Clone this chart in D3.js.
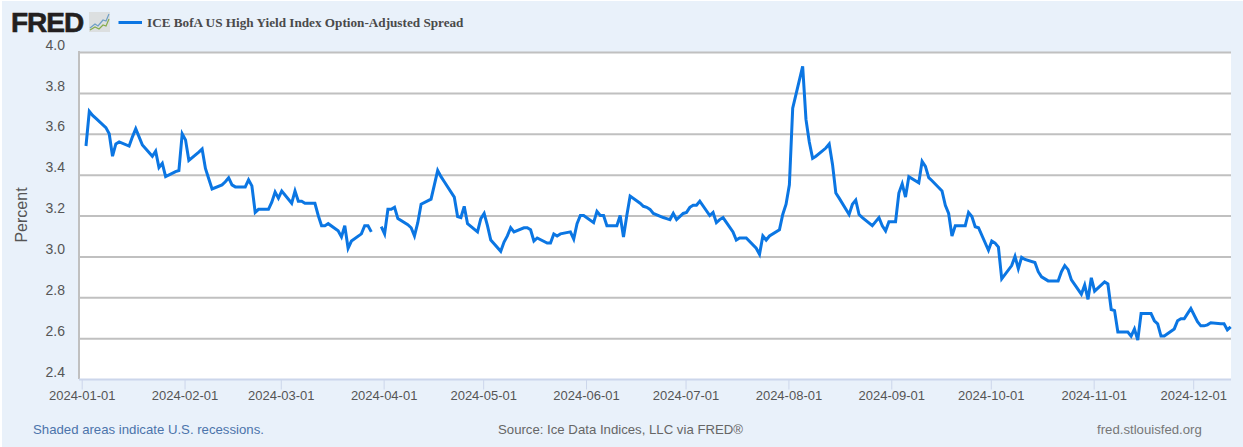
<!DOCTYPE html>
<html>
<head>
<meta charset="utf-8">
<script src="https://cdn.jsdelivr.net/npm/d3@7"></script>
<style>
  html, body { margin: 0; padding: 0; background: #fff; }
  svg { display: block; font-family: "Liberation Sans", Arial, sans-serif; }
</style>
</head>
<body>
<div id="chart"></div>
<script>
// daily observations, month by month ("MM-DD")
var dates = [
  "01-02","01-03","01-04","01-05","01-08","01-09","01-10","01-11","01-12","01-15","01-16","01-17","01-18","01-19","01-22","01-23","01-24","01-25","01-26","01-29","01-30","01-31",
  "02-01","02-02","02-05","02-06","02-07","02-08","02-09","02-12","02-13","02-14","02-15","02-16","02-19","02-20","02-21","02-22","02-23","02-26","02-27","02-28","02-29",
  "03-01","03-04","03-05","03-06","03-07","03-08","03-11","03-12","03-13","03-14","03-15","03-18","03-19","03-20","03-21","03-22","03-25","03-26","03-27","03-28","03-29","03-31",
  "04-01","04-02","04-03","04-04","04-05","04-08","04-09","04-10","04-11","04-12","04-15","04-16","04-17","04-18","04-19","04-22","04-23","04-24","04-25","04-26","04-29","04-30",
  "05-01","05-02","05-03","05-06","05-07","05-08","05-09","05-10","05-13","05-14","05-15","05-16","05-17","05-20","05-21","05-22","05-23","05-24","05-27","05-28","05-29","05-30","05-31",
  "06-03","06-04","06-05","06-06","06-07","06-10","06-11","06-12","06-13","06-14","06-17","06-18","06-19","06-20","06-21","06-24","06-25","06-26","06-27","06-28","06-30",
  "07-01","07-02","07-03","07-04","07-05","07-08","07-09","07-10","07-11","07-12","07-15","07-16","07-17","07-18","07-19","07-22","07-23","07-24","07-25","07-26","07-29","07-30","07-31",
  "08-01","08-02","08-05","08-06","08-07","08-08","08-09","08-12","08-13","08-14","08-15","08-16","08-19","08-20","08-21","08-22","08-23","08-26","08-27","08-28","08-29","08-30","08-31",
  "09-02","09-03","09-04","09-05","09-06","09-09","09-10","09-11","09-12","09-13","09-16","09-17","09-18","09-19","09-20","09-23","09-24","09-25","09-26","09-27","09-30",
  "10-01","10-02","10-03","10-04","10-07","10-08","10-09","10-10","10-11","10-14","10-15","10-16","10-17","10-18","10-21","10-22","10-23","10-24","10-25","10-28","10-29","10-30","10-31",
  "11-01","11-04","11-05","11-06","11-07","11-08","11-11","11-12","11-13","11-14","11-15","11-18","11-19","11-20","11-21","11-22","11-25","11-26","11-27","11-28","11-29","11-30",
  "12-02","12-03","12-04","12-05","12-06","12-09","12-10","12-11","12-12"
];

var spreads = [
  3.54,3.71,3.69,3.675,3.63,3.60,3.49,3.55,3.56,3.54,3.585,3.625,3.585,3.545,3.49,3.515,3.435,3.455,3.39,3.415,3.42,3.60,
  3.57,3.47,3.51,3.525,3.43,3.38,3.33,3.35,3.365,3.385,3.35,3.34,3.34,3.375,3.345,3.215,3.23,3.23,3.265,3.315,3.285,
  3.32,3.26,3.32,3.27,3.27,3.26,3.26,3.20,3.15,3.15,3.16,3.125,3.095,3.15,3.04,3.075,3.11,3.15,3.15,3.12,null,3.145,
  3.11,3.23,3.23,3.24,3.185,3.155,3.14,3.10,3.165,3.255,3.28,3.35,3.42,3.39,3.365,3.29,3.195,3.19,3.245,3.16,3.12,3.185,
  3.21,3.15,3.08,3.025,3.07,3.10,3.14,3.12,3.14,3.14,3.13,3.075,3.09,3.065,3.065,3.11,3.10,3.11,3.12,3.085,3.16,3.20,3.20,
  3.165,3.22,3.20,3.20,3.15,3.15,3.20,3.095,3.20,3.295,3.26,3.245,3.24,3.23,3.21,3.19,3.185,3.18,3.21,3.18,3.21,
  3.215,3.24,3.25,3.25,3.27,3.20,3.215,3.165,3.18,3.19,3.12,3.08,3.09,3.09,3.09,3.04,3.01,3.10,3.08,3.10,3.13,3.205,3.255,
  3.35,3.725,3.93,3.67,3.56,3.48,3.49,3.53,3.55,3.45,3.31,3.285,3.205,3.255,3.275,3.205,3.19,3.15,3.17,3.19,3.15,3.125,3.17,
  3.17,3.31,3.355,3.29,3.39,3.36,3.465,3.44,3.385,3.37,3.32,3.25,3.21,3.10,3.15,3.15,3.215,3.195,3.145,3.14,3.03,
  3.075,3.065,3.045,2.89,2.955,3.00,2.94,2.995,2.985,2.97,2.925,2.90,2.89,2.88,2.88,2.925,2.955,2.935,2.885,2.815,2.86,2.79,2.895,
  2.83,2.875,2.865,2.74,2.735,2.63,2.63,2.61,2.645,2.59,2.72,2.72,2.685,2.67,2.61,2.61,2.645,2.685,2.695,2.695,2.72,2.745,
  2.68,2.66,2.66,2.665,2.675,2.67,2.67,2.64,2.655
];

var xTicks = ["2024-01-01","2024-02-01","2024-03-01","2024-04-01","2024-05-01","2024-06-01","2024-07-01","2024-08-01","2024-09-01","2024-10-01","2024-11-01","2024-12-01"];
var yTicks = [2.4,2.6,2.8,3.0,3.2,3.4,3.6,3.8,4.0];

var seriesName = "ICE BofA US High Yield Index Option-Adjusted Spread";
var yLabel = "Percent";

var width = 1243, height = 447;
var margin = { top: 52, right: 12, bottom: 68, left: 79 };

var parseDay = d3.timeParse("%Y-%m-%d");
var parseObs = d3.timeParse("%Y-%m-%d %H");

// observations sit a little to the right of the tick for the same day
var data = dates.map(function(d, i) {
  return { date: parseObs("2024-" + d + " 07"), value: spreads[i] };
});

var svg = d3.select("#chart").append("svg")
  .attr("width", width)
  .attr("height", height);

// page background
svg.append("rect")
  .attr("x", 2).attr("y", 1)
  .attr("width", width - 2).attr("height", height - 1)
  .attr("fill", "#e9f1fa");

svg.append("rect")
  .attr("x", margin.left).attr("y", margin.top)
  .attr("width", width - margin.left - margin.right)
  .attr("height", height - margin.top - margin.bottom)
  .attr("fill", "#fff");

//scales
var x = d3.scaleTime()
  .domain([parseDay("2024-01-01"), parseDay("2024-12-12")])
  .range([81.7, 1229.7]);

var y = d3.scaleLinear()
  .domain([2.4, 4.0])
  .range([height - margin.bottom, margin.top]);

// grid + y labels
var yAxis = d3.axisLeft(y)
  .tickValues(yTicks)
  .tickSize(-(width - margin.left - margin.right))
  .tickPadding(14)
  .tickFormat(d3.format(".1f"));

var gy = svg.append("g")
  .attr("transform", "translate(" + margin.left + ",0)")
  .call(yAxis);
gy.select(".domain").remove();
gy.selectAll("line")
  .attr("stroke", "#c0c0c0")
  .attr("stroke-width", 2);
gy.selectAll(".tick").filter(function(d) { return d == 2.4; }).select("line").remove();
gy.selectAll("text")
  .attr("dy", "-0.2em")
  .style("font-size", "14px")
  .style("fill", "#555");

svg.append("line")
  .attr("x1", margin.left).attr("x2", margin.left)
  .attr("y1", margin.top - 1).attr("y2", height - margin.bottom)
  .attr("stroke", "#c0c0c0")
  .attr("stroke-width", 2);

// x axis
var xAxis = d3.axisBottom(x)
  .tickValues(xTicks.map(parseDay))
  .tickSize(10)
  .tickPadding(1)
  .tickFormat(d3.timeFormat("%Y-%m-%d"));

var gx = svg.append("g")
  .attr("transform", "translate(0," + (height - margin.bottom + 0.5) + ")")
  .call(xAxis);
gx.select(".domain")
  .attr("d", "M" + margin.left + ",0H" + (width - margin.right))
  .attr("stroke", "#ccd6eb")
  .attr("stroke-width", 2);
gx.selectAll("line").attr("stroke", "#ccd6eb");
gx.selectAll("text")
  .style("font-size", "13px")
  .style("fill", "#555");

// series
var line = d3.line()
  .defined(function(d) { return d.value != null; })
  .x(function(d) { return x(d.date); })
  .y(function(d) { return y(d.value); });

svg.append("path")
  .datum(data)
  .attr("d", line)
  .attr("fill", "none")
  .attr("stroke", "#0b76e3")
  .attr("stroke-width", 3)
  .attr("stroke-linejoin", "miter");

// y title
svg.append("text")
  .attr("transform", "translate(27,215) rotate(-90)")
  .style("text-anchor", "middle")
  .style("font-size", "16px")
  .style("fill", "#555")
  .text(yLabel);

// logo
svg.append("text")
  .attr("x", 11).attr("y", 32)
  .style("font-size", "28px")
  .style("font-weight", "bold")
  .style("letter-spacing", "-1px")
  .style("fill", "#231f20")
  .style("stroke", "#231f20")
  .style("stroke-width", "0.6px")
  .text("FRED");

var logo = svg.append("g");
logo.append("rect")
  .attr("x", 89).attr("y", 12).attr("width", 21).attr("height", 20)
  .attr("fill", "#dcdfe0");
logo.append("path")
  .attr("d", "M90,28L95,24L98,26L103,20L106,21L109,14")
  .attr("fill", "none").attr("stroke", "#6f9fc5").attr("stroke-width", 1.2);
logo.append("path")
  .attr("d", "M90,30L95,27L99,29L103,25L106,26L109,19")
  .attr("fill", "none").attr("stroke", "#86ab4c").attr("stroke-width", 1.2);

// legend
svg.append("line")
  .attr("x1", 118.5).attr("x2", 142)
  .attr("y1", 22.5).attr("y2", 22.5)
  .attr("stroke", "#0b76e3")
  .attr("stroke-width", 3);

svg.append("text")
  .attr("x", 147).attr("y", 27)
  .style("font-family", "'Liberation Serif', serif")
  .style("font-size", "13.2px")
  .style("font-weight", "bold")
  .style("fill", "#4a4a4a")
  .text(seriesName);

// footer
svg.append("text")
  .attr("x", 33).attr("y", 434)
  .style("font-size", "13.2px")
  .style("fill", "#4c74ab")
  .text("Shaded areas indicate U.S. recessions.");

svg.append("text")
  .attr("x", 498).attr("y", 434)
  .style("font-size", "13.2px")
  .style("fill", "#666")
  .text("Source: Ice Data Indices, LLC via FRED\u00AE");

svg.append("text")
  .attr("x", 1097).attr("y", 434)
  .style("font-size", "13.2px")
  .style("fill", "#777")
  .text("fred.stlouisfed.org");
</script>
</body>
</html>
